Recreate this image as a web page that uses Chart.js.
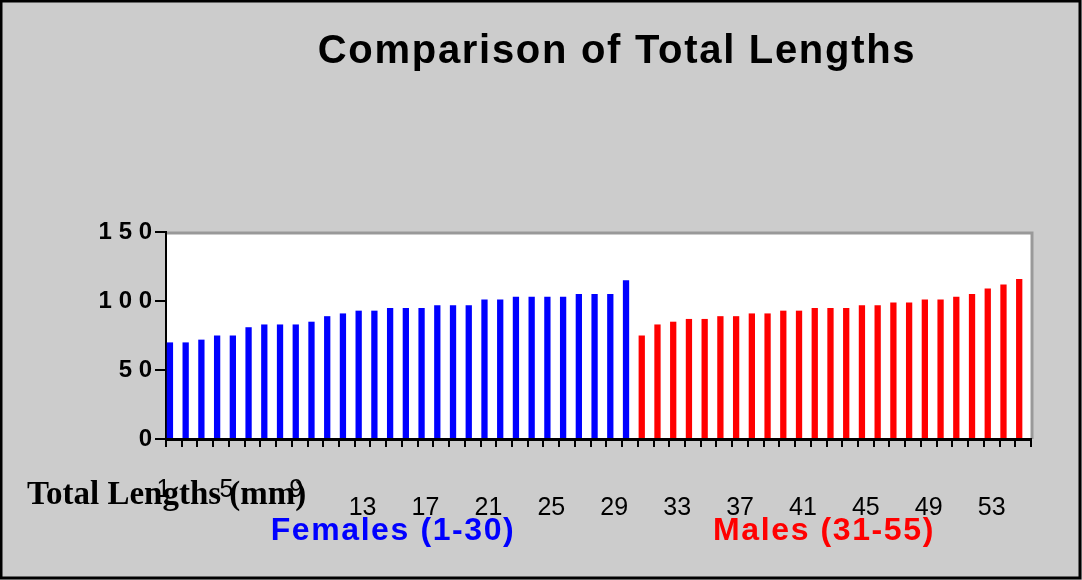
<!DOCTYPE html>
<html>
<head>
<meta charset="utf-8">
<script src="https://cdn.jsdelivr.net/npm/chart.js@4.4.0/dist/chart.umd.min.js"></script>
<style>
  html, body { margin: 0; padding: 0; background: #cccccc; }
  #wrap { width: 1082px; height: 580px; position: relative; }
</style>
</head>
<body>
<div id="wrap"><canvas id="chart" width="1082" height="580"></canvas></div>
<script>
// fish numbers along the x axis
const fishNumbers = [1, 2, 3, 4, 5, 6, 7, 8, 9, 10, 11, 12, 13, 14, 15, 16, 17, 18, 19, 20,
    21, 22, 23, 24, 25, 26, 27, 28, 29, 30, 31, 32, 33, 34, 35, 36, 37, 38, 39, 40,
    41, 42, 43, 44, 45, 46, 47, 48, 49, 50, 51, 52, 53, 54, 55];
// total lengths (mm)
const femaleLengths = [70, 70, 72, 75, 75, 81, 83, 83, 83, 85, 89, 91, 93, 93, 95, 95, 95, 97, 97, 97,
    101, 101, 103, 103, 103, 103, 105, 105, 105, 115];
const maleLengths = [75, 83, 85, 87, 87, 89, 89, 91, 91, 93, 93, 95, 95, 95, 97, 97, 99, 99, 101, 101,
    103, 105, 109, 112, 116];
const shownTicks = [1, 5, 9, 13, 17, 21, 25, 29, 33, 37, 41, 45, 49, 53];
const raisedTicks = [1, 5, 9];
const yTicks = [0, 50, 100, 150];


function draw_text(ctx, text, x, y, font, color, align, spacing) {
    ctx.save();
    ctx.font = font;
    ctx.fillStyle = color;
    ctx.textAlign = align;
    ctx.textBaseline = 'alphabetic';
    ctx.letterSpacing = spacing || '0px';
    ctx.fillText(text, x, y);
    ctx.restore();
}


const frame = {
    id: 'frame',
    beforeDraw(chart) {
        const {ctx, chartArea: a} = chart;
        ctx.save();
        ctx.fillStyle = '#cccccc';
        ctx.fillRect(0, 0, chart.width, chart.height);
        ctx.fillStyle = '#ffffff';
        ctx.fillRect(a.left, a.top, a.right - a.left, a.bottom - a.top);
        ctx.strokeStyle = '#999999';
        ctx.lineWidth = 3;
        ctx.beginPath();
        ctx.moveTo(a.left, a.top + 1);
        ctx.lineTo(a.right + 1, a.top + 1);
        ctx.lineTo(a.right + 1, a.bottom);
        ctx.stroke();
        ctx.restore();
    },
    afterDraw(chart) {
        const ctx = chart.ctx;
        draw_text(ctx, 'Comparison of Total Lengths', 617, 63, 'bold 40px "Liberation Sans"', '#000000', 'center', '1.7px');
        draw_text(ctx, 'Total Lengths (mm)', 27, 504, 'bold 33px "Liberation Serif"', '#000000', 'left');
        draw_text(ctx, 'Females (1-30)', 393, 540, 'bold 32px "Liberation Sans"', '#0000ff', 'center', '1.6px');
        draw_text(ctx, 'Males (31-55)', 824, 540, 'bold 32px "Liberation Sans"', '#ff0000', 'center', '1.6px');
        ctx.save();
        ctx.strokeStyle = '#000000';
        ctx.lineWidth = 3;
        ctx.strokeRect(1, 1, chart.width - 3, chart.height - 3);
        ctx.restore();
    }
};


const maleData = femaleLengths.map(() => null).concat(maleLengths);
// the first few labels sit a little left of their bars
const raisedPad = {1: 3, 5: 3, 9: 1};

new Chart(document.getElementById('chart'), {
    type: 'bar',
    data: {
        labels: fishNumbers,
        datasets: [{
            label: 'Females (1-30)',
            data: femaleLengths,
            backgroundColor: '#0000ff',
            stack: 'fish',
            barPercentage: 0.8,
            categoryPercentage: 1
        }, {
            label: 'Males (31-55)',
            data: maleData,
            backgroundColor: '#ff0000',
            stack: 'fish',
            barPercentage: 0.8,
            categoryPercentage: 1
        }, {
            label: 'gap',
            data: [],
            stack: 'gap',
            barPercentage: 0.8,
            categoryPercentage: 1
        }]
    },
    options: {
        responsive: false,
        animation: false,
        devicePixelRatio: 1,
        layout: {padding: {left: 0, right: 51, top: 232, bottom: 0}},
        plugins: {legend: {display: false}, tooltip: {enabled: false}},
        scales: {
            x: {
                grid: {offset: true, drawOnChartArea: false, tickLength: 8, color: '#000000', lineWidth: 2},
                border: {color: '#000000', width: 3},
                ticks: {
                    autoSkip: false,
                    maxRotation: 0,
                    padding: 34,
                    color: '#000000',
                    font: {family: '"Liberation Sans"', size: 25, lineHeight: 0.72},
                    callback: (value, index) => {
                        const n = fishNumbers[index];
                        if (!shownTicks.includes(n)) return '';
                        if (raisedTicks.includes(n)) return String(n) + ' '.repeat(raisedPad[n]);
                        return ['', String(n)];
                    }
                },
                afterFit: (scale) => { scale.height = 580 - 439; }
            },
            y: {
                min: 0,
                max: 150,
                grid: {drawOnChartArea: false, tickLength: 11, color: '#000000', lineWidth: 2},
                border: {color: '#000000', width: 2},
                afterBuildTicks: (scale) => { scale.ticks = yTicks.map(v => ({value: v})); },
                ticks: {
                    padding: 3,
                    color: '#000000',
                    font: {family: '"Liberation Sans"', size: 24, weight: 'bold'},
                    callback: (value) => String(value).split('').join(' ')
                },
                afterFit: (scale) => { scale.width = 166; }
            }
        }
    },
    plugins: [frame]
});
</script>
</body>
</html>
